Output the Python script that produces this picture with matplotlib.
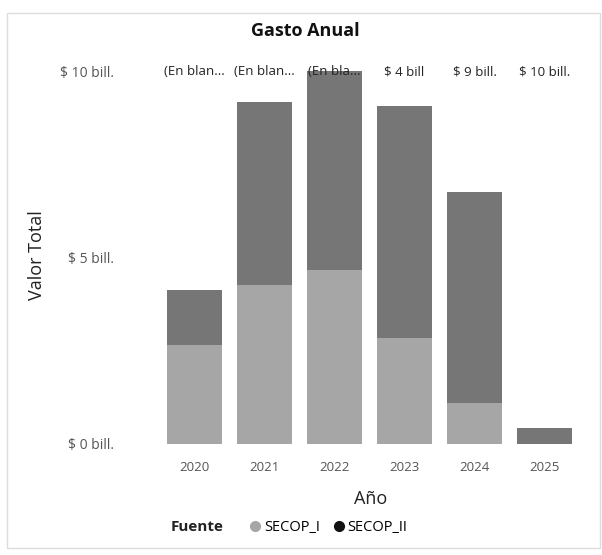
import matplotlib
matplotlib.use("Agg")
import matplotlib.pyplot as plt
from matplotlib.lines import Line2D
from matplotlib.patches import Rectangle

years = ["2020", "2021", "2022", "2023", "2024", "2025"]
secop_i = [2.65, 4.27, 4.68, 2.84, 1.11, 0.0]
secop_ii = [1.49, 4.92, 5.35, 6.24, 5.67, 0.42]
top_labels = ["(En blan...", "(En blan...", "(En bla...", "$ 4 bill", "$ 9 bill.", "$ 10 bill."]
yticks = [0, 5, 10]
ytick_labels = ["$ 0 bill.", "$ 5 bill.", "$ 10 bill."]

plt.rcParams['font.family'] = ['Open Sans', 'DejaVu Sans']

fig = plt.figure(figsize=(6.02, 5.55), dpi=100)
fig.patch.set_facecolor("white")
fig.add_artist(Rectangle((0.012, 0.012), 0.985, 0.965, transform=fig.transFigure,
                         fill=False, edgecolor="#dddddd", linewidth=1.0))

ax = fig.add_axes([0.25, 0.2, 0.73, 0.681])
x = list(range(len(years)))
ax.bar(x, secop_i, width=0.79, color="#a6a6a6", edgecolor="none")
ax.bar(x, secop_ii, width=0.79, bottom=secop_i, color="#767676", edgecolor="none")

ax.set_xlim(-0.63, 5.65)
ax.set_ylim(0, 10.15)
ax.set_yticks(yticks)
ax.set_yticklabels(ytick_labels, fontsize=10, color="#555555")
ax.set_xticks(x)
ax.set_xticklabels(years, fontsize=9.5, color="#555555")
ax.tick_params(length=0)
ax.tick_params(axis="x", pad=12)
ax.tick_params(axis="y", pad=26)
for s in ax.spines.values():
    s.set_visible(False)

for xi, lab in zip(x, top_labels):
    ax.text(xi, 10.0, lab, ha="center", va="center", fontsize=9.5, color="#222222")

ax.set_xlabel("Año", fontsize=13, color="#222222", labelpad=12)
ax.set_ylabel("Valor Total", fontsize=13, color="#222222", labelpad=10)

fig.text(0.507, 0.944, "Gasto Anual", ha="center", va="center", fontsize=13,
         fontweight="bold", color="#111111")

handles = [Line2D([], [], marker="o", linestyle="none", markersize=7, color="#a6a6a6"),
           Line2D([], [], marker="o", linestyle="none", markersize=7, color="#111111")]
fig.text(0.283, 0.05, "Fuente", ha="left", va="center", fontsize=11,
         fontweight="bold", color="#222222")
fig.legend(handles, ["SECOP_I", "SECOP_II"], loc="center left",
           bbox_to_anchor=(0.39, 0.05), ncol=2, frameon=False, fontsize=10.5,
           handletextpad=0.1, columnspacing=0.8, handlelength=1.0)

fig.savefig("out.png", dpi=100, facecolor="white")
